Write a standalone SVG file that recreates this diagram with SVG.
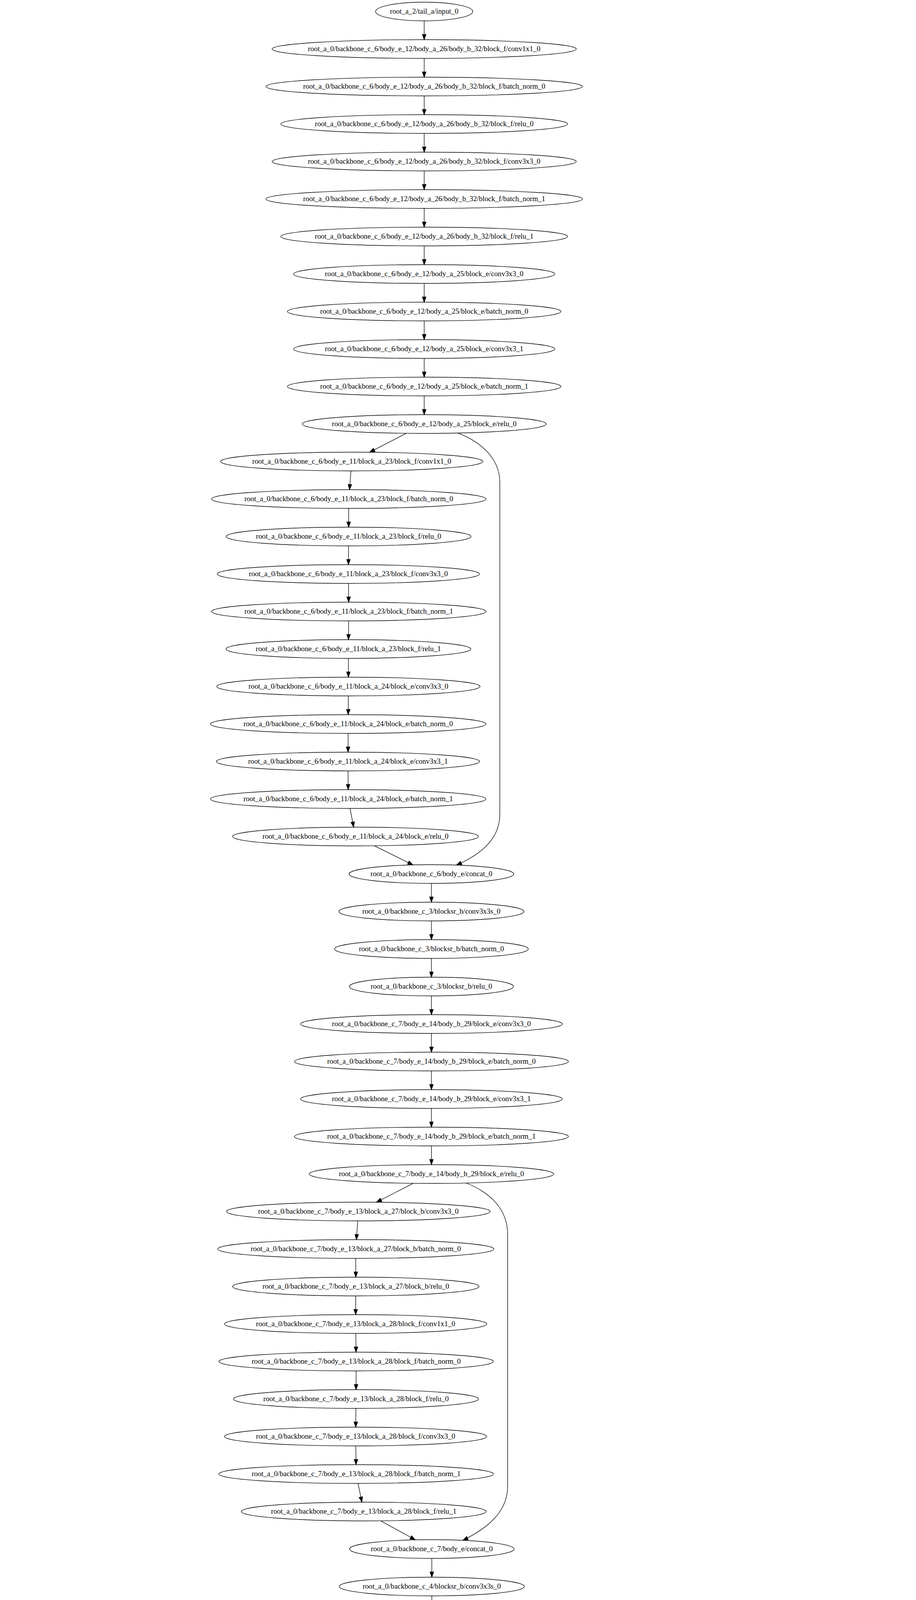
<svg xmlns="http://www.w3.org/2000/svg" width="2344" height="7451" viewBox="0 0 2344 7451">
<style>
.node ellipse{fill:none;stroke:#000;stroke-width:1.33}
.node text{font-family:"Liberation Serif","Times New Roman",serif;font-size:18.67px;text-anchor:middle;fill:#000}
.edges path{fill:none;stroke:#000;stroke-width:1.33;marker-end:url(#ah)}
</style>
<defs>
<marker id="ah" markerUnits="userSpaceOnUse" markerWidth="16" markerHeight="12" refX="13.3" refY="4.67" orient="auto" overflow="visible">
<path d="M0,0 L13.3,4.67 L0,9.33 Z" fill="#000" stroke="#000" stroke-width="1.33"/>
</marker>
</defs>
<rect width="2344" height="7451" fill="#fff"/>
<g id="edges" class="edges">
<path d="M1085.5,53.5 L1085.5,101.5"/>
<path d="M1085.5,149.5 L1085.5,197.5"/>
<path d="M1085.5,245.5 L1085.5,293.5"/>
<path d="M1085.5,341.5 L1085.5,389.5"/>
<path d="M1085.5,437.5 L1085.5,485.5"/>
<path d="M1085.5,533.5 L1085.5,581.5"/>
<path d="M1085.5,629.5 L1085.5,677.5"/>
<path d="M1085.5,725.5 L1085.5,773.5"/>
<path d="M1085.5,821.5 L1085.5,869.5"/>
<path d="M1085.5,917.5 L1085.5,965.5"/>
<path d="M1085.5,1013.5 L1085.5,1061.5"/>
<path d="M1039.6,1109.2 L945.9,1157.7"/>
<path d="M1171.7,1108.6 C1240,1135 1279,1180 1279,1235 L1279,2085 C1279,2150 1225,2190 1168,2214.5"/>
<path d="M898.1,1205.5 L894.4,1253.5"/>
<path d="M892.4,1301.5 L892.1,1349.5"/>
<path d="M891.9,1397.5 L891.6,1445.5"/>
<path d="M891.75,1493.5 L892.25,1541.5"/>
<path d="M892.25,1589.5 L891.75,1637.5"/>
<path d="M891.5,1685.5 L891.5,1733.5"/>
<path d="M891.4,1781.5 L891.1,1829.5"/>
<path d="M890.9,1877.5 L890.6,1925.5"/>
<path d="M890.6,1973.5 L890.9,2021.5"/>
<path d="M895.7,2069.5 L905,2117.5"/>
<path d="M957.7,2165.2 L1056.7,2214.1"/>
<path d="M1104,2261.5 L1104,2309.5"/>
<path d="M1104,2357.5 L1104,2405.5"/>
<path d="M1104,2453.5 L1104,2501.5"/>
<path d="M1104,2549.5 L1104,2597.5"/>
<path d="M1104,2645.5 L1104,2693.5"/>
<path d="M1104,2741.5 L1104,2789.5"/>
<path d="M1104,2837.5 L1104,2885.5"/>
<path d="M1104,2933.5 L1104,2981.5"/>
<path d="M1057.8,3029.2 L963.3,3077.7"/>
<path d="M1192.8,3028.5 C1260,3055 1299,3100 1299,3160 L1299,3805 C1299,3870 1248,3912 1184.4,3943.3"/>
<path d="M915.35,3125.5 L912.05,3173.5"/>
<path d="M910.4,3221.5 L910.5,3269.5"/>
<path d="M910.4,3317.5 L910.1,3365.5"/>
<path d="M910.4,3413.5 L911.1,3461.5"/>
<path d="M911.4,3509.5 L911.1,3557.5"/>
<path d="M910.75,3605.5 L910.25,3653.5"/>
<path d="M910.4,3701.5 L911.1,3749.5"/>
<path d="M916.3,3797.5 L926,3845.5"/>
<path d="M974.1,3893.3 L1062.7,3942"/>
<path d="M1105,3989.5 L1105,4037.5"/>
<path d="M1105,4085.5 L1105,4133.5"/>
<path d="M1105,4181.5 L1105,4229.5"/>
<path d="M1105,4277.5 L1105,4325.5"/>
<path d="M1105,4373.5 L1105,4421.5"/>
<path d="M1105,4469.5 L1105,4517.5"/>
<path d="M1105,4565.5 L1105,4613.5"/>
<path d="M1105,4661.5 L1105,4709.5"/>
<path d="M1105,4757.5 L1105,4805.5"/>
<path d="M1034.3,4852.9 L884.9,4902.3"/>
<path d="M1178.1,4852.8 L1333.2,4902.3"/>
<path d="M810.5,4949.5 L802.2,4997.5"/>
<path d="M807.4,5045.5 L826.4,5093.5"/>
<path d="M1407.7,4949.5 L1411.5,4997.5"/>
<path d="M1408.4,5045.5 L1398.4,5093.5"/>
<path d="M901,5140.7 L1041.2,5190.6"/>
<path d="M1324.1,5140.6 L1173.5,5190.8"/>
<path d="M1105,5237.5 L1105,5285.5"/>
<path d="M1105,5333.5 L1105,5381.5"/>
<path d="M1105,5429.5 L1105,5477.5"/>
<path d="M1105,5525.5 L1105,5573.5"/>
<path d="M1105,5621.5 L1105,5669.5"/>
<path d="M1105,5717.5 L1105,5765.5"/>
<path d="M1105,5813.5 L1105,5861.5"/>
<path d="M1105,5909.5 L1105,5957.5"/>
<path d="M1105,6005.5 L1105,6053.5"/>
<path d="M961.7,6098.8 L597.5,6152.8"/>
<path d="M1069.6,6101.3 C1030,6132 962,6190 917.7,6245.7"/>
<path d="M1153.2,6101.2 L1251,6149.9"/>
<path d="M1275.5,6097.6 L1752.2,6154.1"/>
<path d="M418,6197.3 L340,6245.7"/>
<path d="M302.7,6293.5 L307.2,6341.5"/>
<path d="M313.7,6389.5 L322.6,6437.5"/>
<path d="M361,6485.3 L430.1,6533.7"/>
<path d="M497.4,6581.3 L564.8,6629.7"/>
<path d="M702.5,6675.4 L954.7,6728.3"/>
<path d="M895.1,6293.5 L892.4,6341.5"/>
<path d="M892,6389.5 L894,6437.5"/>
<path d="M895.7,6485.5 C905,6580 930,6660 1002.8,6726.2"/>
<path d="M1346.6,6197.1 L1445.5,6245.8"/>
<path d="M1486.9,6293.5 L1473.5,6341.5"/>
<path d="M1464.8,6389.5 L1460.8,6437.5"/>
<path d="M1419.9,6485.3 L1340.5,6533.7"/>
<path d="M1281.6,6581.4 L1241.3,6629.6"/>
<path d="M1180.5,6677.2 L1104,6726.1"/>
<path d="M1932.4,6197.5 L2026.5,6341.5"/>
<path d="M2025,6389.5 L1926,6533.6"/>
<path d="M1835.7,6580.5 C1700,6625 1450,6690 1196.4,6731.2"/>
<path d="M1056,6773.5 L1056,6821.5"/>
<path d="M1056,6869.5 L1056,6917.5"/>
<path d="M1056,6965.5 L1056,7013.5"/>
<path d="M1056,7061.5 L1056,7109.5"/>
<path d="M1056,7157.5 L1056,7205.5"/>
<path d="M1056,7253.5 L1056,7301.5"/>
<path d="M1056,7349.5 L1056,7397.5"/>
</g>
<g id="nodes">
<g id="n1" class="node"><ellipse cx="1085.5" cy="29.5" rx="124.4" ry="24"/><text x="1085.5" y="35.1">root_a_2/tail_a/input_0</text></g>
<g id="n2" class="node"><ellipse cx="1085.5" cy="125.5" rx="389.2" ry="24"/><text x="1085.5" y="131.1">root_a_0/backbone_c_6/body_e_12/body_a_26/body_b_32/block_f/conv1x1_0</text></g>
<g id="n3" class="node"><ellipse cx="1085.5" cy="221.5" rx="404.9" ry="24"/><text x="1085.5" y="227.1">root_a_0/backbone_c_6/body_e_12/body_a_26/body_b_32/block_f/batch_norm_0</text></g>
<g id="n4" class="node"><ellipse cx="1085.5" cy="317.5" rx="367" ry="24"/><text x="1085.5" y="323.1">root_a_0/backbone_c_6/body_e_12/body_a_26/body_b_32/block_f/relu_0</text></g>
<g id="n5" class="node"><ellipse cx="1085.5" cy="413.5" rx="389.2" ry="24"/><text x="1085.5" y="419.1">root_a_0/backbone_c_6/body_e_12/body_a_26/body_b_32/block_f/conv3x3_0</text></g>
<g id="n6" class="node"><ellipse cx="1085.5" cy="509.5" rx="404.9" ry="24"/><text x="1085.5" y="515.1">root_a_0/backbone_c_6/body_e_12/body_a_26/body_b_32/block_f/batch_norm_1</text></g>
<g id="n7" class="node"><ellipse cx="1085.5" cy="605.5" rx="367" ry="24"/><text x="1085.5" y="611.1">root_a_0/backbone_c_6/body_e_12/body_a_26/body_b_32/block_f/relu_1</text></g>
<g id="n8" class="node"><ellipse cx="1085.5" cy="701.5" rx="334.3" ry="24"/><text x="1085.5" y="707.1">root_a_0/backbone_c_6/body_e_12/body_a_25/block_e/conv3x3_0</text></g>
<g id="n9" class="node"><ellipse cx="1085.5" cy="797.5" rx="350" ry="24"/><text x="1085.5" y="803.1">root_a_0/backbone_c_6/body_e_12/body_a_25/block_e/batch_norm_0</text></g>
<g id="n10" class="node"><ellipse cx="1085.5" cy="893.5" rx="334.3" ry="24"/><text x="1085.5" y="899.1">root_a_0/backbone_c_6/body_e_12/body_a_25/block_e/conv3x3_1</text></g>
<g id="n11" class="node"><ellipse cx="1085.5" cy="989.5" rx="350" ry="24"/><text x="1085.5" y="995.1">root_a_0/backbone_c_6/body_e_12/body_a_25/block_e/batch_norm_1</text></g>
<g id="n12" class="node"><ellipse cx="1085.5" cy="1085.5" rx="312" ry="24"/><text x="1085.5" y="1091.1">root_a_0/backbone_c_6/body_e_12/body_a_25/block_e/relu_0</text></g>
<g id="n13" class="node"><ellipse cx="900" cy="1181.5" rx="335.6" ry="24"/><text x="900" y="1187.1">root_a_0/backbone_c_6/body_e_11/block_a_23/block_f/conv1x1_0</text></g>
<g id="n14" class="node"><ellipse cx="892.5" cy="1277.5" rx="351.3" ry="24"/><text x="892.5" y="1283.1">root_a_0/backbone_c_6/body_e_11/block_a_23/block_f/batch_norm_0</text></g>
<g id="n15" class="node"><ellipse cx="892" cy="1373.5" rx="313.3" ry="24"/><text x="892" y="1379.1">root_a_0/backbone_c_6/body_e_11/block_a_23/block_f/relu_0</text></g>
<g id="n16" class="node"><ellipse cx="891.5" cy="1469.5" rx="335.6" ry="24"/><text x="891.5" y="1475.1">root_a_0/backbone_c_6/body_e_11/block_a_23/block_f/conv3x3_0</text></g>
<g id="n17" class="node"><ellipse cx="892.5" cy="1565.5" rx="351.3" ry="24"/><text x="892.5" y="1571.1">root_a_0/backbone_c_6/body_e_11/block_a_23/block_f/batch_norm_1</text></g>
<g id="n18" class="node"><ellipse cx="891.5" cy="1661.5" rx="313.3" ry="24"/><text x="891.5" y="1667.1">root_a_0/backbone_c_6/body_e_11/block_a_23/block_f/relu_1</text></g>
<g id="n19" class="node"><ellipse cx="891.5" cy="1757.5" rx="336.9" ry="24"/><text x="891.5" y="1763.1">root_a_0/backbone_c_6/body_e_11/block_a_24/block_e/conv3x3_0</text></g>
<g id="n20" class="node"><ellipse cx="891" cy="1853.5" rx="352.5" ry="24"/><text x="891" y="1859.1">root_a_0/backbone_c_6/body_e_11/block_a_24/block_e/batch_norm_0</text></g>
<g id="n21" class="node"><ellipse cx="890.5" cy="1949.5" rx="336.9" ry="24"/><text x="890.5" y="1955.1">root_a_0/backbone_c_6/body_e_11/block_a_24/block_e/conv3x3_1</text></g>
<g id="n22" class="node"><ellipse cx="891" cy="2045.5" rx="352.5" ry="24"/><text x="891" y="2051.1">root_a_0/backbone_c_6/body_e_11/block_a_24/block_e/batch_norm_1</text></g>
<g id="n23" class="node"><ellipse cx="909.7" cy="2141.5" rx="314.6" ry="24"/><text x="909.7" y="2147.1">root_a_0/backbone_c_6/body_e_11/block_a_24/block_e/relu_0</text></g>
<g id="n24" class="node"><ellipse cx="1104" cy="2237.5" rx="210.7" ry="24"/><text x="1104" y="2243.1">root_a_0/backbone_c_6/body_e/concat_0</text></g>
<g id="n25" class="node"><ellipse cx="1104" cy="2333.5" rx="236.8" ry="24"/><text x="1104" y="2339.1">root_a_0/backbone_c_3/blocksr_b/conv3x3s_0</text></g>
<g id="n26" class="node"><ellipse cx="1104" cy="2429.5" rx="247.9" ry="24"/><text x="1104" y="2435.1">root_a_0/backbone_c_3/blocksr_b/batch_norm_0</text></g>
<g id="n27" class="node"><ellipse cx="1104" cy="2525.5" rx="210" ry="24"/><text x="1104" y="2531.1">root_a_0/backbone_c_3/blocksr_b/relu_0</text></g>
<g id="n28" class="node"><ellipse cx="1104" cy="2621.5" rx="334.9" ry="24"/><text x="1104" y="2627.1">root_a_0/backbone_c_7/body_e_14/body_b_29/block_e/conv3x3_0</text></g>
<g id="n29" class="node"><ellipse cx="1104" cy="2717.5" rx="350.6" ry="24"/><text x="1104" y="2723.1">root_a_0/backbone_c_7/body_e_14/body_b_29/block_e/batch_norm_0</text></g>
<g id="n30" class="node"><ellipse cx="1104" cy="2813.5" rx="334.9" ry="24"/><text x="1104" y="2819.1">root_a_0/backbone_c_7/body_e_14/body_b_29/block_e/conv3x3_1</text></g>
<g id="n31" class="node"><ellipse cx="1104" cy="2909.5" rx="350.6" ry="24"/><text x="1104" y="2915.1">root_a_0/backbone_c_7/body_e_14/body_b_29/block_e/batch_norm_1</text></g>
<g id="n32" class="node"><ellipse cx="1104" cy="3005.5" rx="312.7" ry="24"/><text x="1104" y="3011.1">root_a_0/backbone_c_7/body_e_14/body_b_29/block_e/relu_0</text></g>
<g id="n33" class="node"><ellipse cx="917" cy="3101.5" rx="337.5" ry="24"/><text x="917" y="3107.1">root_a_0/backbone_c_7/body_e_13/block_a_27/block_b/conv3x3_0</text></g>
<g id="n34" class="node"><ellipse cx="910.4" cy="3197.5" rx="353.2" ry="24"/><text x="910.4" y="3203.1">root_a_0/backbone_c_7/body_e_13/block_a_27/block_b/batch_norm_0</text></g>
<g id="n35" class="node"><ellipse cx="910.5" cy="3293.5" rx="315.3" ry="24"/><text x="910.5" y="3299.1">root_a_0/backbone_c_7/body_e_13/block_a_27/block_b/relu_0</text></g>
<g id="n36" class="node"><ellipse cx="910" cy="3389.5" rx="335.6" ry="24"/><text x="910" y="3395.1">root_a_0/backbone_c_7/body_e_13/block_a_28/block_f/conv1x1_0</text></g>
<g id="n37" class="node"><ellipse cx="911.5" cy="3485.5" rx="351.3" ry="24"/><text x="911.5" y="3491.1">root_a_0/backbone_c_7/body_e_13/block_a_28/block_f/batch_norm_0</text></g>
<g id="n38" class="node"><ellipse cx="911" cy="3581.5" rx="313.3" ry="24"/><text x="911" y="3587.1">root_a_0/backbone_c_7/body_e_13/block_a_28/block_f/relu_0</text></g>
<g id="n39" class="node"><ellipse cx="910" cy="3677.5" rx="335.6" ry="24"/><text x="910" y="3683.1">root_a_0/backbone_c_7/body_e_13/block_a_28/block_f/conv3x3_0</text></g>
<g id="n40" class="node"><ellipse cx="911.5" cy="3773.5" rx="351.3" ry="24"/><text x="911.5" y="3779.1">root_a_0/backbone_c_7/body_e_13/block_a_28/block_f/batch_norm_1</text></g>
<g id="n41" class="node"><ellipse cx="930.8" cy="3869.5" rx="313.3" ry="24"/><text x="930.8" y="3875.1">root_a_0/backbone_c_7/body_e_13/block_a_28/block_f/relu_1</text></g>
<g id="n42" class="node"><ellipse cx="1105" cy="3965.5" rx="210.7" ry="24"/><text x="1105" y="3971.1">root_a_0/backbone_c_7/body_e/concat_0</text></g>
<g id="n43" class="node"><ellipse cx="1105" cy="4061.5" rx="236.8" ry="24"/><text x="1105" y="4067.1">root_a_0/backbone_c_4/blocksr_b/conv3x3s_0</text></g>
<g id="n44" class="node"><ellipse cx="1105" cy="4157.5" rx="247.9" ry="24"/><text x="1105" y="4163.1">root_a_0/backbone_c_4/blocksr_b/batch_norm_0</text></g>
<g id="n45" class="node"><ellipse cx="1105" cy="4253.5" rx="210" ry="24"/><text x="1105" y="4259.1">root_a_0/backbone_c_4/blocksr_b/relu_0</text></g>
<g id="n46" class="node"><ellipse cx="1105" cy="4349.5" rx="333.6" ry="24"/><text x="1105" y="4355.1">root_a_0/backbone_c_8/body_c_17/body_b_30/block_f/conv1x1_0</text></g>
<g id="n47" class="node"><ellipse cx="1105" cy="4445.5" rx="349.3" ry="24"/><text x="1105" y="4451.1">root_a_0/backbone_c_8/body_c_17/body_b_30/block_f/batch_norm_0</text></g>
<g id="n48" class="node"><ellipse cx="1105" cy="4541.5" rx="311.4" ry="24"/><text x="1105" y="4547.1">root_a_0/backbone_c_8/body_c_17/body_b_30/block_f/relu_0</text></g>
<g id="n49" class="node"><ellipse cx="1105" cy="4637.5" rx="333.6" ry="24"/><text x="1105" y="4643.1">root_a_0/backbone_c_8/body_c_17/body_b_30/block_f/conv3x3_0</text></g>
<g id="n50" class="node"><ellipse cx="1105" cy="4733.5" rx="349.3" ry="24"/><text x="1105" y="4739.1">root_a_0/backbone_c_8/body_c_17/body_b_30/block_f/batch_norm_1</text></g>
<g id="n51" class="node"><ellipse cx="1105" cy="4829.5" rx="311.4" ry="24"/><text x="1105" y="4835.1">root_a_0/backbone_c_8/body_c_17/body_b_30/block_f/relu_1</text></g>
<g id="n52a" class="node"><ellipse cx="814.6" cy="4925.5" rx="279.3" ry="24"/><text x="814.6" y="4931.1">root_a_0/backbone_c_8/body_c_15/block_b/conv3x3_0</text></g>
<g id="n52b" class="node"><ellipse cx="1405.8" cy="4925.5" rx="279.3" ry="24"/><text x="1405.8" y="4931.1">root_a_0/backbone_c_8/body_c_16/block_b/conv3x3_0</text></g>
<g id="n53a" class="node"><ellipse cx="798" cy="5021.5" rx="295" ry="24"/><text x="798" y="5027.1">root_a_0/backbone_c_8/body_c_15/block_b/batch_norm_0</text></g>
<g id="n53b" class="node"><ellipse cx="1413.4" cy="5021.5" rx="295" ry="24"/><text x="1413.4" y="5027.1">root_a_0/backbone_c_8/body_c_16/block_b/batch_norm_0</text></g>
<g id="n54a" class="node"><ellipse cx="835.8" cy="5117.5" rx="257.1" ry="24"/><text x="835.8" y="5123.1">root_a_0/backbone_c_8/body_c_15/block_b/relu_0</text></g>
<g id="n54b" class="node"><ellipse cx="1393.4" cy="5117.5" rx="257.1" ry="24"/><text x="1393.4" y="5123.1">root_a_0/backbone_c_8/body_c_16/block_b/relu_0</text></g>
<g id="n55" class="node"><ellipse cx="1105" cy="5213.5" rx="210.7" ry="24"/><text x="1105" y="5219.1">root_a_0/backbone_c_8/body_c/concat_0</text></g>
<g id="n56" class="node"><ellipse cx="1105" cy="5309.5" rx="236.8" ry="24"/><text x="1105" y="5315.1">root_a_0/backbone_c_5/blocksr_b/conv3x3s_0</text></g>
<g id="n57" class="node"><ellipse cx="1105" cy="5405.5" rx="247.9" ry="24"/><text x="1105" y="5411.1">root_a_0/backbone_c_5/blocksr_b/batch_norm_0</text></g>
<g id="n58" class="node"><ellipse cx="1105" cy="5501.5" rx="210" ry="24"/><text x="1105" y="5507.1">root_a_0/backbone_c_5/blocksr_b/relu_0</text></g>
<g id="n59" class="node"><ellipse cx="1105" cy="5597.5" rx="334.3" ry="24"/><text x="1105" y="5603.1">root_a_0/backbone_c_9/body_d_22/body_b_31/block_f/conv1x1_0</text></g>
<g id="n60" class="node"><ellipse cx="1105" cy="5693.5" rx="350" ry="24"/><text x="1105" y="5699.1">root_a_0/backbone_c_9/body_d_22/body_b_31/block_f/batch_norm_0</text></g>
<g id="n61" class="node"><ellipse cx="1105" cy="5789.5" rx="312.1" ry="24"/><text x="1105" y="5795.1">root_a_0/backbone_c_9/body_d_22/body_b_31/block_f/relu_0</text></g>
<g id="n62" class="node"><ellipse cx="1105" cy="5885.5" rx="334.3" ry="24"/><text x="1105" y="5891.1">root_a_0/backbone_c_9/body_d_22/body_b_31/block_f/conv3x3_0</text></g>
<g id="n63" class="node"><ellipse cx="1105" cy="5981.5" rx="350" ry="24"/><text x="1105" y="5987.1">root_a_0/backbone_c_9/body_d_22/body_b_31/block_f/batch_norm_1</text></g>
<g id="n64" class="node"><ellipse cx="1105" cy="6077.5" rx="312.1" ry="24"/><text x="1105" y="6083.1">root_a_0/backbone_c_9/body_d_22/body_b_31/block_f/relu_1</text></g>
<g id="n65a" class="node"><ellipse cx="457.5" cy="6173.5" rx="278" ry="24"/><text x="457.5" y="6179.1">root_a_0/backbone_c_9/body_d_20/block_f/conv1x1_0</text></g>
<g id="n65c" class="node"><ellipse cx="1298.6" cy="6173.5" rx="278" ry="24"/><text x="1298.6" y="6179.1">root_a_0/backbone_c_9/body_d_18/block_f/conv1x1_0</text></g>
<g id="n65d" class="node"><ellipse cx="1916.4" cy="6173.5" rx="280" ry="24"/><text x="1916.4" y="6179.1">root_a_0/backbone_c_9/body_d_19/block_b/conv3x3_0</text></g>
<g id="n66a" class="node"><ellipse cx="298.5" cy="6269.5" rx="293.7" ry="24"/><text x="298.5" y="6275.1">root_a_0/backbone_c_9/body_d_20/block_f/batch_norm_0</text></g>
<g id="n66b" class="node"><ellipse cx="896.5" cy="6269.5" rx="280" ry="24"/><text x="896.5" y="6275.1">root_a_0/backbone_c_9/body_d_21/block_b/conv3x3_0</text></g>
<g id="n66c" class="node"><ellipse cx="1493.6" cy="6269.5" rx="293.7" ry="24"/><text x="1493.6" y="6275.1">root_a_0/backbone_c_9/body_d_18/block_f/batch_norm_0</text></g>
<g id="n67a" class="node"><ellipse cx="309.5" cy="6365.5" rx="255.8" ry="24"/><text x="309.5" y="6371.1">root_a_0/backbone_c_9/body_d_20/block_f/relu_0</text></g>
<g id="n67b" class="node"><ellipse cx="891" cy="6365.5" rx="295.7" ry="24"/><text x="891" y="6371.1">root_a_0/backbone_c_9/body_d_21/block_b/batch_norm_0</text></g>
<g id="n67c" class="node"><ellipse cx="1466.8" cy="6365.5" rx="255.8" ry="24"/><text x="1466.8" y="6371.1">root_a_0/backbone_c_9/body_d_18/block_f/relu_0</text></g>
<g id="n67d" class="node"><ellipse cx="2042.5" cy="6365.5" rx="295.7" ry="24"/><text x="2042.5" y="6371.1">root_a_0/backbone_c_9/body_d_19/block_b/batch_norm_0</text></g>
<g id="n68a" class="node"><ellipse cx="326.8" cy="6461.5" rx="278" ry="24"/><text x="326.8" y="6467.1">root_a_0/backbone_c_9/body_d_20/block_f/conv3x3_0</text></g>
<g id="n68b" class="node"><ellipse cx="895" cy="6461.5" rx="257.8" ry="24"/><text x="895" y="6467.1">root_a_0/backbone_c_9/body_d_21/block_b/relu_0</text></g>
<g id="n68c" class="node"><ellipse cx="1458.8" cy="6461.5" rx="278" ry="24"/><text x="1458.8" y="6467.1">root_a_0/backbone_c_9/body_d_18/block_f/conv3x3_0</text></g>
<g id="n69a" class="node"><ellipse cx="464.1" cy="6557.5" rx="293.7" ry="24"/><text x="464.1" y="6563.1">root_a_0/backbone_c_9/body_d_20/block_f/batch_norm_1</text></g>
<g id="n69c" class="node"><ellipse cx="1301.6" cy="6557.5" rx="293.7" ry="24"/><text x="1301.6" y="6563.1">root_a_0/backbone_c_9/body_d_18/block_f/batch_norm_1</text></g>
<g id="n69d" class="node"><ellipse cx="1908.4" cy="6557.5" rx="257.8" ry="24"/><text x="1908.4" y="6563.1">root_a_0/backbone_c_9/body_d_19/block_b/relu_0</text></g>
<g id="n70a" class="node"><ellipse cx="598" cy="6653.5" rx="255.8" ry="24"/><text x="598" y="6659.1">root_a_0/backbone_c_9/body_d_20/block_f/relu_1</text></g>
<g id="n70c" class="node"><ellipse cx="1221.3" cy="6653.5" rx="255.8" ry="24"/><text x="1221.3" y="6659.1">root_a_0/backbone_c_9/body_d_18/block_f/relu_1</text></g>
<g id="n71" class="node"><ellipse cx="1056" cy="6749.5" rx="217.2" ry="24"/><text x="1056" y="6755.1">root_a_0/backbone_c_9/body_d/concat4_0</text></g>
<g id="n72" class="node"><ellipse cx="1056" cy="6845.5" rx="229" ry="24"/><text x="1056" y="6851.1">root_a_1/head_b_10/pool_b/globalavgpool_0</text></g>
<g id="n73" class="node"><ellipse cx="1056" cy="6941.5" rx="138.1" ry="24"/><text x="1056" y="6947.1">root_a_1/head_b/flatten_0</text></g>
<g id="n74" class="node"><ellipse cx="1056" cy="7037.5" rx="135.5" ry="24"/><text x="1056" y="7043.1">root_a_1/head_b/affine_0</text></g>
<g id="n75" class="node"><ellipse cx="1056" cy="7133.5" rx="164.3" ry="24"/><text x="1056" y="7139.1">root_a_1/head_b/batch_norm_0</text></g>
<g id="n76" class="node"><ellipse cx="1056" cy="7229.5" rx="126.3" ry="24"/><text x="1056" y="7235.1">root_a_1/head_b/relu_0</text></g>
<g id="n77" class="node"><ellipse cx="1056" cy="7325.5" rx="134.2" ry="24"/><text x="1056" y="7331.1">root_a_1/head_b/logits_0</text></g>
<g id="n78" class="node"><ellipse cx="1056" cy="7421.5" rx="138.1" ry="24"/><text x="1056" y="7427.1">root_a_1/head_b/output_0</text></g>
</g>
</svg>
